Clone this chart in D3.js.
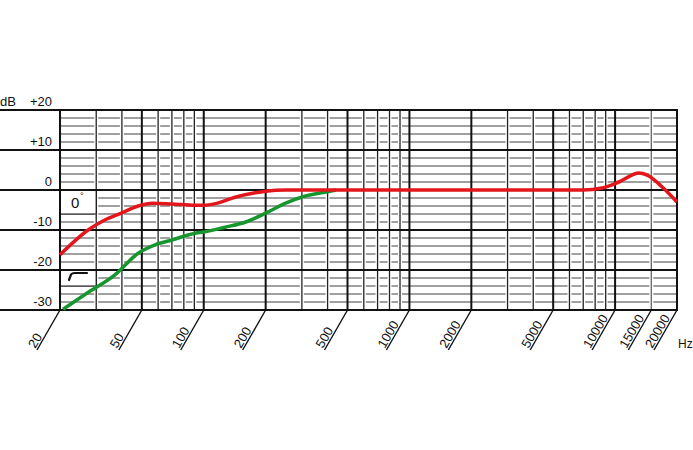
<!DOCTYPE html>
<html>
<head>
<meta charset="utf-8">
<script src="https://cdn.jsdelivr.net/npm/d3@7/dist/d3.min.js"></script>
<style>
  body { margin: 0; background: #fff; }
  text { font-family: "Liberation Sans", Arial, sans-serif; fill: #111; }
</style>
</head>
<body>
<svg width="693" height="450"></svg>
<script>
// frequency response data (Hz, dB)
var redFreq = [20, 27.4, 33, 40, 48, 56, 70, 91, 100, 114, 142, 178, 200, 250, 500, 1000, 2000, 5000, 7000, 8640, 10440, 13070, 14600, 16900, 20000];
var redDb   = [-16.2, -10, -7.5, -5.7, -4, -3.3, -3.5, -3.8, -3.8, -3.4, -1.8, -0.7, -0.3, 0, 0, 0, 0, 0, 0, 0.5, 2, 4.25, 3.5, 0.8, -3];

var greenFreq = [20.7, 27, 37, 48, 58, 70, 91, 100, 127, 160, 200, 250, 312, 393, 440];
var greenDb   = [-29.8, -25.8, -21.2, -15.8, -13.7, -12.5, -10.8, -10.5, -9.3, -8, -5.8, -3.3, -1.5, -0.5, 0];

var majorFreqs = [20, 50, 100, 200, 500, 1000, 2000, 5000, 10000, 20000];
var minorFreqs = [30, 40, 60, 70, 80, 90, 300, 400, 600, 700, 800, 900, 3000, 4000, 6000, 7000, 8000, 9000, 15000];
var tickFreqs = [20, 50, 100, 200, 500, 1000, 2000, 5000, 10000, 15000, 20000];
var majorDb = [20, 10, 0, -10, -20, -30];
var dbLabels = ["+20", "+10", "0", "-10", "-20", "-30"];
var minorDb = d3.range(-28, 20, 2).filter(function(v){ return v % 10 !== 0; });

var svg = d3.select("svg");
var x = d3.scaleLog().domain([20, 20000]).range([60, 677]);
var y = d3.scaleLinear().domain([-30, 20]).range([310, 110]);

var grid = svg.append("g");

// minor horizontal lines (every 2 dB)
grid.selectAll(".hmin").data(minorDb).enter().append("line")
  .attr("x1", x(20)).attr("x2", x(20000))
  .attr("y1", function(d){ return y(d); }).attr("y2", function(d){ return y(d); })
  .attr("stroke", "#808080").attr("stroke-width", 1.6);

// minor verticals, with a white halo so the grey lines look broken
grid.selectAll(".vhalo").data(minorFreqs).enter().append("line")
  .attr("x1", function(d){ return x(d); }).attr("x2", function(d){ return x(d); })
  .attr("y1", y(20)).attr("y2", y(-30))
  .attr("stroke", "#fff").attr("stroke-width", 4);
grid.selectAll(".vmin").data(minorFreqs).enter().append("line")
  .attr("x1", function(d){ return x(d); }).attr("x2", function(d){ return x(d); })
  .attr("y1", y(20)).attr("y2", y(-30))
  .attr("stroke", function(d){ return d === 15000 ? "#666" : "#222"; })
  .attr("stroke-width", 1.3);

// major horizontal lines, run out to the left edge
grid.selectAll(".hmaj").data(majorDb).enter().append("line")
  .attr("x1", 0).attr("x2", x(20000))
  .attr("y1", function(d){ return y(d); }).attr("y2", function(d){ return y(d); })
  .attr("stroke", "#111").attr("stroke-width", 2);

// major verticals
grid.selectAll(".vmaj").data(majorFreqs).enter().append("line")
  .attr("x1", function(d){ return x(d); }).attr("x2", function(d){ return x(d); })
  .attr("y1", y(20) - 1).attr("y2", y(-30) + 1)
  .attr("stroke", "#111").attr("stroke-width", 2);

// little boxes at the left: 0° and bass-cut symbol
var box1 = svg.append("g");
box1.append("rect")
  .attr("x", x(20) + 1).attr("y", y(0) + 1)
  .attr("width", x(30) - x(20) - 1).attr("height", y(-6) - y(0) - 1)
  .attr("fill", "#fff").attr("stroke", "none");
box1.append("path")
  .attr("d", "M" + x(20) + "," + y(-6) + "H" + x(30) + "V" + y(0))
  .attr("fill", "none").attr("stroke", "#111").attr("stroke-width", 1.2);
box1.append("text")
  .attr("x", x(20) + 11).attr("y", y(0) + 18)
  .style("font-size", "15px").text("0");
box1.append("text")
  .attr("x", x(20) + 20).attr("y", y(0) + 9)
  .style("font-size", "9px").text("°");

var box2 = svg.append("g");
box2.append("rect")
  .attr("x", x(20) + 1).attr("y", y(-20) + 1)
  .attr("width", x(30) - x(20) - 1).attr("height", y(-24) - y(-20) - 1)
  .attr("fill", "#fff").attr("stroke", "none");
box2.append("path")
  .attr("d", "M" + x(20) + "," + y(-24) + "H" + x(30) + "V" + y(-20))
  .attr("fill", "none").attr("stroke", "#111").attr("stroke-width", 1.2);
var sx = x(20) + 9, sy = y(-20) + 3;
box2.append("path")
  .attr("d", "M" + sx + "," + (sy + 7) + "L" + (sx + 2) + "," + (sy + 1.5) +
             "Q" + (sx + 3) + "," + sy + " " + (sx + 6) + "," + sy + "H" + (sx + 18))
  .attr("fill", "none").attr("stroke", "#111").attr("stroke-width", 2.2).attr("stroke-linecap", "round");

// response curves
var line = d3.line()
  .x(function(d){ return x(d[0]); })
  .y(function(d){ return y(d[1]); })
  .curve(d3.curveMonotoneX);

svg.append("path")
  .datum(d3.zip(greenFreq, greenDb))
  .attr("d", line)
  .attr("fill", "none").attr("stroke", "#17952f").attr("stroke-width", 3.5);

svg.append("path")
  .datum(d3.zip(redFreq, redDb))
  .attr("d", line)
  .attr("fill", "none").attr("stroke", "#e3161c").attr("stroke-width", 3.5);

// y labels
svg.append("text").attr("x", 0).attr("y", y(20) - 4).style("font-size", "13px").text("dB");
svg.selectAll(".ylab").data(majorDb).enter().append("text")
  .attr("x", 52).attr("y", function(d){ return y(d) - 4; })
  .attr("text-anchor", "end").style("font-size", "13px")
  .text(function(d, i){ return dbLabels[i]; });

// slanted x ticks and labels
var tickLen = 40, slant = 23;
var ticks = svg.selectAll(".xt").data(tickFreqs).enter().append("g");
ticks.append("line")
  .attr("x1", function(d){ return x(d); }).attr("y1", y(-30))
  .attr("x2", function(d){ return x(d) - slant; }).attr("y2", y(-30) + tickLen)
  .attr("stroke", "#111").attr("stroke-width", 1.4);
ticks.append("text")
  .attr("transform", function(d){
    return "translate(" + (x(d) - slant) + "," + (y(-30) + tickLen) + ") rotate(-60)";
  })
  .attr("dy", -2).attr("x", 0)
  .style("font-size", "13px")
  .text(function(d){ return d; });

svg.append("text").attr("x", 678).attr("y", 348).style("font-size", "12px").text("Hz");
</script>
</body>
</html>
